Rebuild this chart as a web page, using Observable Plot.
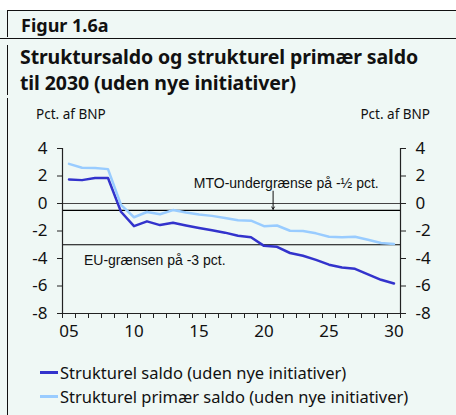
<!DOCTYPE html>
<html><head><meta charset="utf-8">
<script src="https://cdn.jsdelivr.net/npm/d3@7"></script>
<script src="https://cdn.jsdelivr.net/npm/@observablehq/plot@0.6"></script>
<style>
html,body{margin:0;padding:0;}
body{width:456px;height:415px;position:relative;overflow:hidden;background:#eff8f5;font-family:"Noto Sans",sans-serif;}
.top{position:absolute;left:0;top:0;width:456px;height:10px;background:#fff;}
.hl{position:absolute;height:1.3px;background:#111;}
.vl{position:absolute;width:1.3px;background:#111;left:7px;}
.fig{position:absolute;left:21px;top:13px;font-size:18px;font-weight:700;color:#111;}
.title{position:absolute;left:20px;top:44px;font-size:19.5px;font-weight:700;line-height:26px;color:#111;letter-spacing:-0.1px;}
.unit{position:absolute;top:105px;font-size:13.5px;color:#111;}
#chart{position:absolute;left:0;top:130px;}
.leg{position:absolute;left:40px;font-size:16.5px;color:#111;display:flex;align-items:center;}
.leg span.sw{display:inline-block;width:18px;height:2.5px;margin-right:2px;}
</style></head>
<body>
<div class="top"></div>
<div class="hl" style="left:7px;top:10px;width:449px;"></div>
<div class="hl" style="left:0;top:38px;width:456px;"></div>
<div class="vl" style="top:10px;height:27px;"></div>
<div class="vl" style="top:45px;height:50px;"></div>
<div class="vl" style="top:98px;height:317px;"></div>
<div class="fig">Figur 1.6a</div>
<div class="title">Struktursaldo og strukturel primær saldo<br>til 2030 (uden nye initiativer)</div>
<div class="unit" style="left:36px;">Pct. af BNP</div>
<div class="unit" style="right:26px;">Pct. af BNP</div>
<div id="chart"></div>
<div class="leg" style="top:361px;"><span class="sw" style="background:#3333cc"></span>Strukturel saldo (uden nye initiativer)</div>
<div class="leg" style="top:385px;"><span class="sw" style="background:#99ccff"></span>Strukturel primær saldo (uden nye initiativer)</div>
<script>
const years = d3.range(2005, 2031);
const strukturelSaldo = [1.75,1.7,1.85,1.85,-0.6,-1.65,-1.3,-1.57,-1.4,-1.6,-1.78,-1.95,-2.12,-2.35,-2.45,-3.08,-3.15,-3.6,-3.8,-4.1,-4.45,-4.65,-4.75,-5.15,-5.55,-5.82];
const primaerSaldo = [2.88,2.6,2.58,2.5,-0.1,-1.0,-0.62,-0.78,-0.48,-0.66,-0.8,-0.9,-1.05,-1.22,-1.25,-1.65,-1.6,-1.98,-2.0,-2.17,-2.42,-2.46,-2.42,-2.64,-2.87,-2.95];
const seriesNames = ["Strukturel saldo (uden nye initiativer)","Strukturel primær saldo (uden nye initiativer)"];
const seriesColors = ["#3333cc","#99ccff"];
const yTicks = [-8,-6,-4,-2,0,2,4];
const xLabelYears = [2005,2010,2015,2020,2025,2030];
const refLines = [0,-0.5,-3];
const annotations = [
  {text:"MTO-undergrænse på -½ pct.", year:2014.6, value:1.45},
  {text:"EU-grænsen på -3 pct.", year:2006.15, value:-4.15}
];
const arrowData = [{year:2020.7, from:0.9, to:-0.42}];

const data = [];
years.forEach((y,i)=>{
  data.push({year:y, value:strukturelSaldo[i], series:seriesNames[0]});
  data.push({year:y, value:primaerSaldo[i], series:seriesNames[1]});
});
const xDomain = [years[0]-0.5, years[years.length-1]+0.5];
const boundaryTicks = d3.range(xDomain[0], xDomain[1]+0.01, 1);

const chart = Plot.plot({
  width:456, height:213,
  marginTop:18, marginBottom:30, marginLeft:62, marginRight:56,
  x:{domain:xDomain},
  y:{domain:[yTicks[0], yTicks[yTicks.length-1]]},
  color:{domain:seriesNames, range:seriesColors},
  style:{background:"transparent", fontFamily:"Noto Sans, sans-serif", color:"#111"},
  marks:[
    Plot.ruleY(refLines, {stroke:d=>d===0?"#444":"#000", strokeWidth:1.2}),
    Plot.ruleX([xDomain[0], xDomain[1]], {y1:yTicks[0], y2:yTicks[yTicks.length-1], stroke:"#222", strokeWidth:1.2}),
    Plot.ruleY([yTicks[0]], {stroke:"#222", strokeWidth:1.2}),
    Plot.axisY({anchor:"left", ticks:yTicks, tickSize:5, tickPadding:10, fontSize:17, tickFormat:d=>String(d), label:null, stroke:"#222"}),
    Plot.axisY({anchor:"right", ticks:yTicks, tickSize:5, tickPadding:10, fontSize:17, tickFormat:d=>String(d), label:null, stroke:"#222"}),
    Plot.axisX({ticks:boundaryTicks, tickSize:5, tickFormat:()=>"", label:null, stroke:"#222"}),
    Plot.axisX({ticks:xLabelYears, tickSize:0, tickPadding:11, fontSize:17, tickFormat:d=>String(d).slice(2), label:null}),
    Plot.line(data, {x:"year", y:"value", stroke:"series", strokeWidth:2.5}),
    Plot.text(annotations, {x:"year", y:"value", text:"text", textAnchor:"start", fontSize:14, fontFamily:"Liberation Sans, Arial, sans-serif", fill:"#111"}),
    Plot.arrow(arrowData, {x1:"year", x2:"year", y1:"from", y2:"to", stroke:"#111", strokeWidth:1, headLength:4})
  ]
});
document.getElementById("chart").appendChild(chart);
</script>
</body></html>
